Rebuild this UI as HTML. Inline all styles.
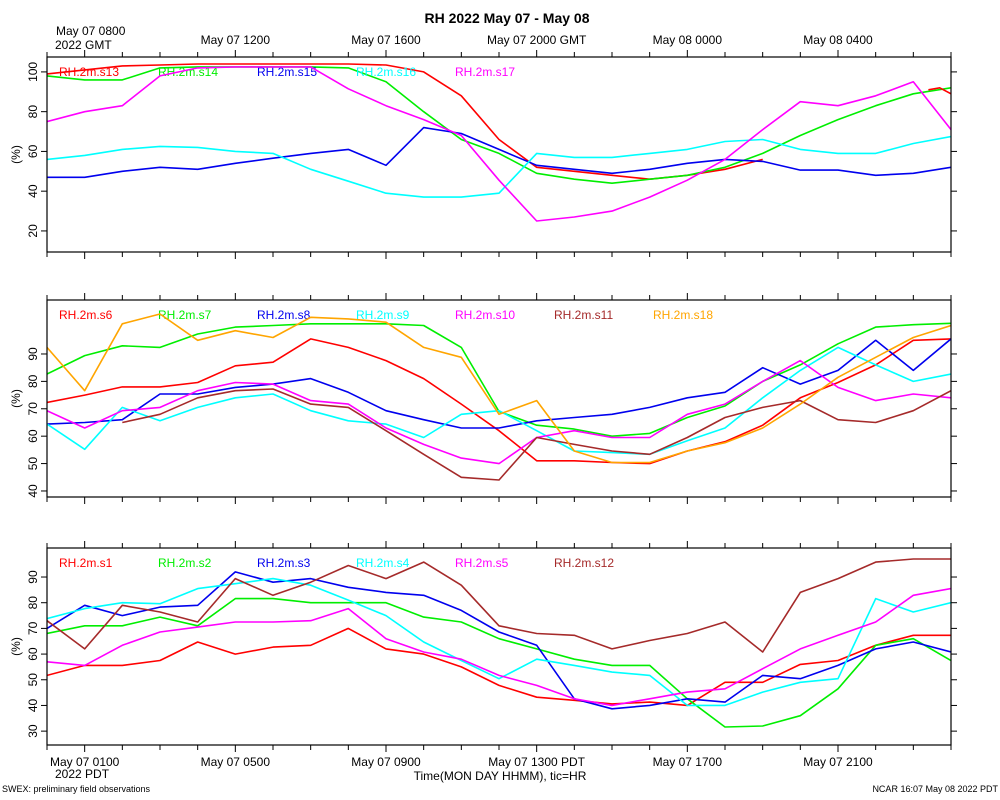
<!DOCTYPE html>
<html><head><meta charset="utf-8"><style>
body{margin:0;background:#fff;}
svg{display:block;font-family:"Liberation Sans",sans-serif;}
</style></head><body>
<svg id="chart" width="1000" height="800" viewBox="0 0 1000 800">
<text x="507" y="23" text-anchor="middle" font-size="14" font-weight="bold">RH 2022 May 07 - May 08</text>
<text x="56" y="35" font-size="12">May 07 0800</text>
<text x="55" y="49" font-size="12">2022 GMT</text>
<text x="55" y="778" font-size="12">2022 PDT</text>
<text x="500" y="780" text-anchor="middle" font-size="12">Time(MON DAY HHMM), tic=HR</text>
<text x="2" y="792" font-size="9">SWEX: preliminary field observations</text>
<text x="998" y="792" text-anchor="end" font-size="9">NCAR 16:07 May 08 2022 PDT</text>
</svg>
<script>
// hours since May 07 0700 GMT
const hours = [0,1,2,3,4,5,6,7,8,9,10,11,12,13,14,15,16,17,18,19,20,21,22,23,24];
const topTickLabels = ["May 07 1200","May 07 1600","May 07 2000 GMT","May 08 0000","May 08 0400"];
const topTickHours = [5,9,13,17,21];
const bottomTickLabels = ["May 07 0100","May 07 0500","May 07 0900","May 07 1300 PDT","May 07 1700","May 07 2100"];
const bottomTickHours = [1,5,9,13,17,21];
const legendColors = ["#ff0000","#00ee00","#0000ee","#00ffff","#ff00ff","#a52a2a","#ffa500"];

// Panel 1
const p1Names = ["RH.2m.s13","RH.2m.s14","RH.2m.s15","RH.2m.s16","RH.2m.s17"];
const p1Ticks = [20,40,60,80,100];
const s13 = [99,101,103,103.5,104,104,104,104,104,103.5,100,88,66,52,50,48,46,48,51,56,null,null,null,null,null];
const s13bHours = [23.4,23.7,24];
const s13b = [91,92,89];
const s14 = [98,96,96,102,102.5,102.5,102.5,102.5,102,95,80,66,59,49,46,44,46,48,52,59,68,76,83,89,92];
const s15 = [47,47,50,52,51,54,56.6,59,61,53,72,69,61,53,51,49,51,54,56,55,50.6,50.6,48,49,52];
const s16 = [56,58,61,62.5,62,60,59,51,45,39,37,37,39,59,57,57,59,61,65,66,61,59,59,64,67.5];
const s17 = [75,80,83,98,102,102.5,102.5,102.5,91.5,83,76,68,45.5,25,27,30,37,45.5,56,71,85,83,88,95,71];

// Panel 2
const p2Names = ["RH.2m.s6","RH.2m.s7","RH.2m.s8","RH.2m.s9","RH.2m.s10","RH.2m.s11","RH.2m.s18"];
const p2Ticks = [40,50,60,70,80,90];
const s6 = [72.3,75,78,78,79.6,85.7,87,95.5,92.4,87.6,81,71.7,62,51,51,50.4,50,54.6,58,64,74,79.6,86,95,95.5];
const s7 = [82.7,89.4,93,92.4,97.3,99.8,100.4,101,101,101,100.4,92.4,69,64,62.6,60,61,66.8,71,80,86,93.7,99.8,100.7,101.2];
const s8 = [64.4,65,66,75.4,75.4,77.8,79,81,76,69.3,66,63,63,65.6,66.8,68,70.5,74,76,85,79,84,95,84,95.5];
const s9 = [64.4,55.2,70.5,65.6,70.5,74,75.4,69.3,65.6,64.4,59.5,68,69.3,62,54.6,54,53.4,58.3,63,74,84,92.4,86,80,82.7];
const s10 = [69.3,63,69.3,70.5,76.6,79.6,79,73,71.7,63,57,52,50,59.5,62,59.5,59.5,68,71.7,80,87.6,77.8,73,75.4,74];
const s11 = [null,null,65,68,74,76.6,77.2,71.7,70.5,62,53.4,45,44,59.5,57,54.6,53.4,59.5,66.8,70.5,73,66,65,69.3,76.6];
const s18 = [92.4,76.6,101,104.6,95,98.5,96,103.4,102.8,101.6,92.4,88.8,68,73,54.6,50.4,50.4,54.6,57.6,63,71.7,81.5,88.8,96,100.4];

// Panel 3
const p3Names = ["RH.2m.s1","RH.2m.s2","RH.2m.s3","RH.2m.s4","RH.2m.s5","RH.2m.s12"];
const p3Ticks = [30,40,50,60,70,80,90];
const s1 = [51.7,55.6,55.6,57.5,64.7,60,62.7,63.4,70,62,60,55,47.8,43.2,42,40.6,41.3,40,49,49,56,57.5,63.4,67.3,67.3];
const s2 = [68,71,71,74.4,71,81.6,81.6,80,80,80,74.4,72.5,66,62,58,55.6,55.6,42.6,31.6,32,36,46.5,63.4,66,57.5];
const s3 = [70,79,75,78.3,79,92,88,89.4,86,84,82.9,77,68.6,63.4,42.6,38.7,40,42.6,41.3,51.7,50.4,55.6,62,64.7,60.8];
const s4 = [73.8,77.7,80,79.6,85.5,87.4,89.4,86.8,81,75,64.7,57.5,50.4,58,55.6,53,51.7,40,40,45.2,49,50.4,81.6,76.4,80];
const s5 = [57,55.6,63.4,68.6,70.5,72.5,72.5,73,77.7,66,60.8,58,51.7,47.8,42.6,40,42.6,45.2,46.5,54.3,62,67.3,72.5,82.9,85.5];
const s12 = [73,62,79,76.4,72.5,89.4,82.9,88,94.5,89.4,95.8,86.8,71,68,67.3,62,65.3,68,72.5,60.8,84,89.4,95.8,97,97];

const NS = "http://www.w3.org/2000/svg";
const svg = document.getElementById("chart");
const X0 = 47, X1 = 951;
function xScale(h){ return X0 + (X1 - X0) * h / 24; }
function mk(tag, attrs, parent){
  const e = document.createElementNS(NS, tag);
  for (const k in attrs) e.setAttribute(k, attrs[k]);
  (parent || svg).appendChild(e);
  return e;
}

const panels = [
  {top:57, bot:252, vTop:107.5, vBot:9.4, ticks:p1Ticks, names:p1Names, series:[s13,s14,s15,s16,s17], key:"upper"},
  {top:300, bot:497, vTop:109.7, vBot:37.8, ticks:p2Ticks, names:p2Names, series:[s6,s7,s8,s9,s10,s11,s18], key:"middle"},
  {top:548, bot:745, vTop:101.3, vBot:24.6, ticks:p3Ticks, names:p3Names, series:[s1,s2,s3,s4,s5,s12], key:"lower"}
];
const p3Colors = ["#ff0000","#00ee00","#0000ee","#00ffff","#ff00ff","#a52a2a"];

panels.forEach((p, pi) => {
  const g = mk("g", {});
  
  
  const yScale = v => p.top + (p.vTop - v) / (p.vTop - p.vBot) * (p.bot - p.top);
  // clip
  const cp = mk("clipPath", {id:"clip"+pi}, g);
  mk("rect", {x:X0, y:p.top, width:X1-X0, height:p.bot-p.top}, cp);
  // x ticks hourly on top and bottom
  for (let h = 0; h <= 24; h++) {
    const x = xScale(h);
    const major = (h % 4 === 1);
    const len = major ? 7 : 5;
    const t1 = mk("line", {x1:x, x2:x, y1:p.top-len, y2:p.top, stroke:"#000", "stroke-width":1}, g);
    
    
    const t2 = mk("line", {x1:x, x2:x, y1:p.bot, y2:p.bot+len, stroke:"#000", "stroke-width":1}, g);
    
    
  }
  // y ticks + labels
  p.ticks.forEach(v => {
    const y = yScale(v);
    const a = mk("line", {x1:X0-6, x2:X0, y1:y, y2:y, stroke:"#000"}, g);
    
    
    const b = mk("line", {x1:X1, x2:X1+6, y1:y, y2:y, stroke:"#000"}, g);
    
    
    const t = mk("text", {x:0, y:0, "font-size":12, "text-anchor":"middle", transform:`translate(37,${y}) rotate(-90)`}, g);
    t.textContent = v;
    
    
  });
  const yl = mk("text", {x:0, y:0, "font-size":12, "text-anchor":"middle", transform:`translate(20,${(p.top+p.bot)/2}) rotate(-90)`}, g);
  yl.textContent = "(%)";
  
  
  // series
  const colors = pi === 2 ? p3Colors : legendColors;
  p.series.forEach((arr, si) => {
    let d = "", pen = false;
    arr.forEach((v, i) => {
      if (v === null) { pen = false; return; }
      d += (pen ? "L" : "M") + xScale(hours[i]).toFixed(1) + " " + yScale(v).toFixed(1) + " ";
      pen = true;
    });
    const path = mk("path", {d:d, fill:"none", stroke:colors[si], "stroke-width":1.6, "clip-path":`url(#clip${pi})`, "stroke-linejoin":"round"}, g);
    
    
    // legend
    const lt = mk("text", {x:59 + si*99, y:p.top+19, "font-size":12, fill:colors[si]}, g);
    lt.textContent = p.names[si];
    
    
  });
  if (pi === 0) {
    let d = "";
    s13b.forEach((v, i) => { d += (i ? "L" : "M") + xScale(s13bHours[i]).toFixed(1) + " " + yScale(v).toFixed(1) + " "; });
    const path = mk("path", {d:d, fill:"none", stroke:"#ff0000", "stroke-width":1.6, "clip-path":"url(#clip0)"}, g);
    
    
  }
  const fr = mk("rect", {x:X0, y:p.top, width:X1-X0, height:p.bot-p.top, fill:"none", stroke:"#000", "stroke-width":1.2}, g);
  
  
});

topTickLabels.forEach((s, i) => {
  const t = mk("text", {x:xScale(topTickHours[i]), y:44, "font-size":12, "text-anchor":"middle"});
  t.textContent = s;
  
  
});
bottomTickLabels.forEach((s, i) => {
  const t = mk("text", {x:xScale(bottomTickHours[i]), y:766, "font-size":12, "text-anchor":"middle"});
  t.textContent = s;
  
  
});
</script>
</body></html>
